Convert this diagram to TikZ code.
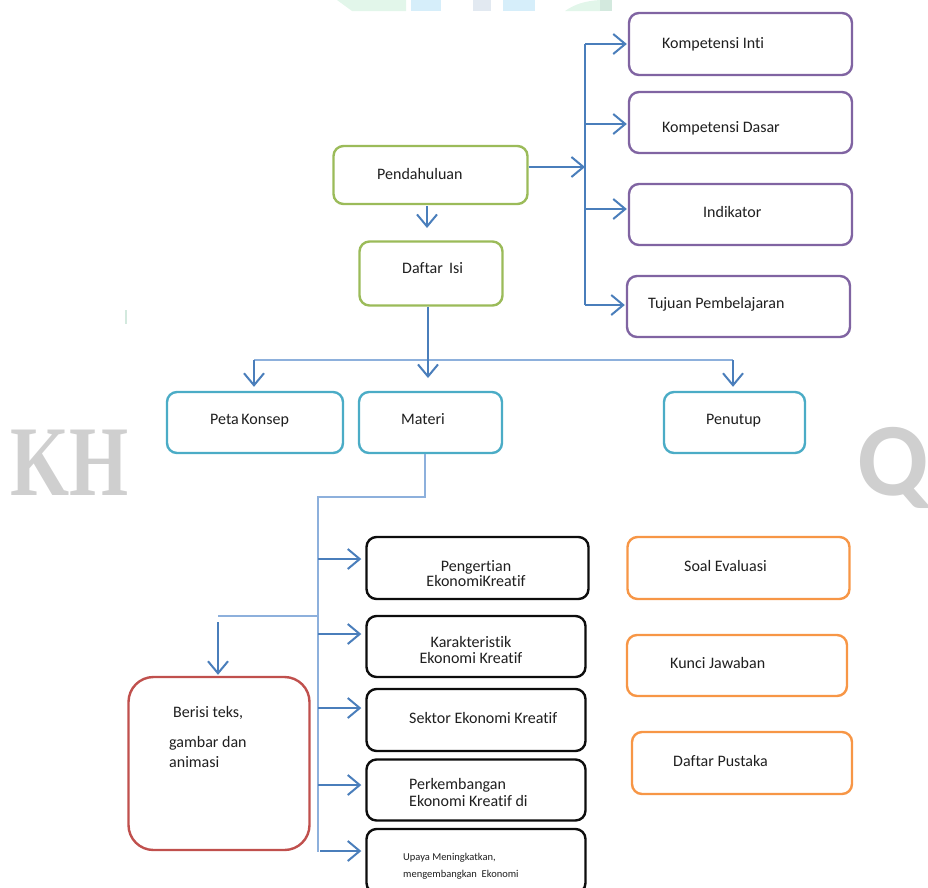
\documentclass[tikz,border=0pt]{standalone}
\usepackage{fontspec}
\setmainfont{Carlito}[Ligatures=NoCommon]
\newfontfamily\wmserif{Liberation Serif}
\usetikzlibrary{arrows.meta}
\definecolor{cPur}{HTML}{8064A2}
\definecolor{cGrn}{HTML}{9BBB59}
\definecolor{cCya}{HTML}{4BACC6}
\definecolor{cRed}{HTML}{C0504D}
\definecolor{cOra}{HTML}{F79646}
\definecolor{cBlk}{HTML}{0D0D0D}
\definecolor{cArr}{HTML}{4A7EBB}
\definecolor{cLn}{HTML}{8DB0DC}
\definecolor{cTxt}{HTML}{1F1F1F}
\definecolor{cWm}{HTML}{CFCFCF}
\definecolor{wmG}{HTML}{E2F6EA}
\definecolor{wmG2}{HTML}{D3E9DE}
\definecolor{wmB}{HTML}{D6EEFA}
\definecolor{wmS}{HTML}{E2E9F1}
\begin{document}
\begin{tikzpicture}[x=1pt,y=-1pt,
  box/.style={draw=#1, rounded corners=10pt, line width=2.4pt, inner sep=0pt, fill=white},
  txt/.style={inner sep=0pt, anchor=base west, text=cTxt, font=\fontsize{16}{19}\selectfont},
  txtc/.style={txt, anchor=base},
  small/.style={inner sep=0pt, anchor=base west, text=cTxt, font=\fontsize{10.5}{12}\selectfont},
  arr/.style={draw=cArr, line width=2pt, -{Straight Barb[length=12pt,width=20pt]}},
  spine/.style={draw=cArr, line width=1.6pt},
  ln/.style={draw=cLn, line width=1.4pt},
  wm/.style={inner sep=0pt, text=cWm}
]
\useasboundingbox (0,0) rectangle (928,887);
\clip (0,0) rectangle (928,887);

% watermark fragments
\fill[wmG] (337,0) -- (406,0) -- (406,11) -- (352,11) -- cycle;
\fill[wmB] (411,0) rectangle (441,11);
\fill[wmS] (473,0) rectangle (491,11);
\fill[wmB] (503,0) rectangle (535,11);
\fill[wmG] (565,11) .. controls (575,4) and (585,1) .. (600,0) -- (600,11) -- cycle;
\fill[wmG2] (600,0) rectangle (612,11);
\draw[wmG2, line width=1.5pt] (126,310) -- (126,324);
\node[wm, anchor=base west, font=\wmserif\bfseries\fontsize{100}{100}\selectfont] (wmKH) at (10,495) {\scalebox{0.76}[1]{KH}};
\node[wm, anchor=base west, font=\bfseries\fontsize{104}{104}\selectfont] (wmQ) at (857,495) {Q};

% boxes
\node[box=cPur, minimum width=223pt, minimum height=62pt] (ki) at (740.5,44) {};
\node[box=cPur, minimum width=223pt, minimum height=61pt] (kd) at (740.5,122.5) {};
\node[box=cPur, minimum width=223pt, minimum height=61pt] (ind) at (740.5,214.5) {};
\node[box=cPur, minimum width=223pt, minimum height=61pt] (tuj) at (738.5,306.5) {};
\node[box=cGrn, minimum width=194pt, minimum height=58pt] (pend) at (430.5,175) {};
\node[box=cGrn, minimum width=143pt, minimum height=64pt] (dis) at (431,273.5) {};
\node[box=cCya, minimum width=176pt, minimum height=61pt] (peta) at (255,422.5) {};
\node[box=cCya, minimum width=143pt, minimum height=61pt] (mat) at (430.5,422.5) {};
\node[box=cCya, minimum width=141pt, minimum height=61pt] (pen) at (734.5,422.5) {};
\node[box=cBlk, minimum width=222pt, minimum height=62pt] (peng) at (477.5,568) {};
\node[box=cBlk, minimum width=219pt, minimum height=61pt] (kar) at (476,646.5) {};
\node[box=cBlk, minimum width=219pt, minimum height=62pt] (sek) at (476,720) {};
\node[box=cBlk, minimum width=219pt, minimum height=61pt] (per) at (476,790) {};
\node[box=cBlk, minimum width=219pt, minimum height=64pt] (upa) at (476,861) {};
\node[box=cRed, rounded corners=25pt, minimum width=181pt, minimum height=173pt] (ber) at (219,763.5) {};
\node[box=cOra, minimum width=222pt, minimum height=62pt] (soal) at (738.5,568) {};
\node[box=cOra, minimum width=220pt, minimum height=61pt] (kun) at (737,665.5) {};
\node[box=cOra, minimum width=220pt, minimum height=62pt] (dp) at (742,763) {};

% texts
\node[txt] (tki) at (662,48) {Kompetensi Inti};
\node[txt] (tkd) at (662,132) {Kompetensi Dasar};
\node[txt] (tind) at (703,217) {Indikator};
\node[txt] (ttuj) at (648,308) {Tujuan Pembelajaran};
\node[txt] (tpend) at (377,179) {Pendahuluan};
\node[txt] (tdis) at (402,273) {Daftar\ \,Isi};
\node[txt] (tpeta) at (210,424) {Peta\hspace{0.16em}Konsep};
\node[txt] (tmat) at (401,424) {Materi};
\node[txt] (tpen) at (706,424) {Penutup};
\node[txtc] (tpeng1) at (476,571) {Pengertian};
\node[txtc] (tpeng2) at (476,586) {EkonomiKreatif};
\node[txtc] (tkar1) at (471,647) {Karakteristik};
\node[txtc] (tkar2) at (471,663) {Ekonomi Kreatif};
\node[txt] (tsek) at (409,723) {Sektor Ekonomi Kreatif};
\node[txt] (tper1) at (409,789) {Perkembangan};
\node[txt] (tper2) at (409,806) {Ekonomi Kreatif di};
\node[small] (tupa1) at (403,860) {Upaya Meningkatkan,};
\node[small] (tupa2) at (403,877) {mengembangkan\ \ Ekonomi};
\node[txt] (tber1) at (173,717) {Berisi teks,};
\node[txt] (tber2) at (169,747) {gambar dan};
\node[txt] (tber3) at (169,767) {animasi};
\node[txt] (tsoal) at (684,571) {Soal Evaluasi};
\node[txt] (tkun) at (670,668) {Kunci Jawaban};
\node[txt] (tdp) at (673,766) {Daftar Pustaka};

% right spine
\coordinate (spT) at (585,44);
\coordinate (sp2) at (585,124);
\coordinate (spM) at (585,167);
\coordinate (sp3) at (585,209);
\coordinate (spB) at (585,305);
\draw[spine] (spT) -- (spB);
\draw[arr, shorten >=1pt] (spT) -- (ki.west |- spT);
\draw[arr, shorten >=1pt] (sp2) -- (kd.west |- sp2);
\draw[arr, shorten >=1pt] (sp3) -- (ind.west |- sp3);
\draw[arr, shorten >=1pt] (spB) -- (tuj.west |- spB);
\draw[arr] (pend.east |- spM) -- (spM);

% pendahuluan -> daftar isi
\coordinate (d1) at (427,206);
\coordinate (d2) at (427,228);
\draw[arr] (d1) -- (d2);

% daftar isi -> row
\coordinate (dA) at (428,378);
\coordinate (hL) at (254,360);
\coordinate (hR) at (733,360);
\draw[ln] (hL) -- (hR);
\draw[arr] (dis.south -| dA) -- (dA);
\draw[arr, shorten >=4pt] (hL) -- (peta.north -| hL);
\draw[arr, shorten >=4pt] (hR) -- (pen.north -| hR);

% materi branches
\coordinate (m1) at (425,497);
\coordinate (m2) at (318,497);
\coordinate (m3) at (318,852);
\draw[ln] (mat.south -| m1) -- (m1) -- (m2) -- (m3);
\coordinate (b1) at (318,559);
\coordinate (b2) at (318,634);
\coordinate (b3) at (318,708);
\coordinate (b4) at (318,785);
\coordinate (b5) at (320,851);
\draw[arr, shorten >=4pt] (b1) -- (peng.west |- b1);
\draw[arr, shorten >=4pt] (b2) -- (kar.west |- b2);
\draw[arr, shorten >=4pt] (b3) -- (sek.west |- b3);
\draw[arr, shorten >=4pt] (b4) -- (per.west |- b4);
\draw[arr, shorten >=4pt] (b5) -- (upa.west |- b5);

% berisi
\coordinate (c0) at (318,616);
\coordinate (c1) at (218,616);
\coordinate (c2) at (218,622);
\draw[ln] (c0) -- (c1);
\draw[arr, shorten >=1pt] (c2) -- (ber.north -| c2);
\end{tikzpicture}
\end{document}
